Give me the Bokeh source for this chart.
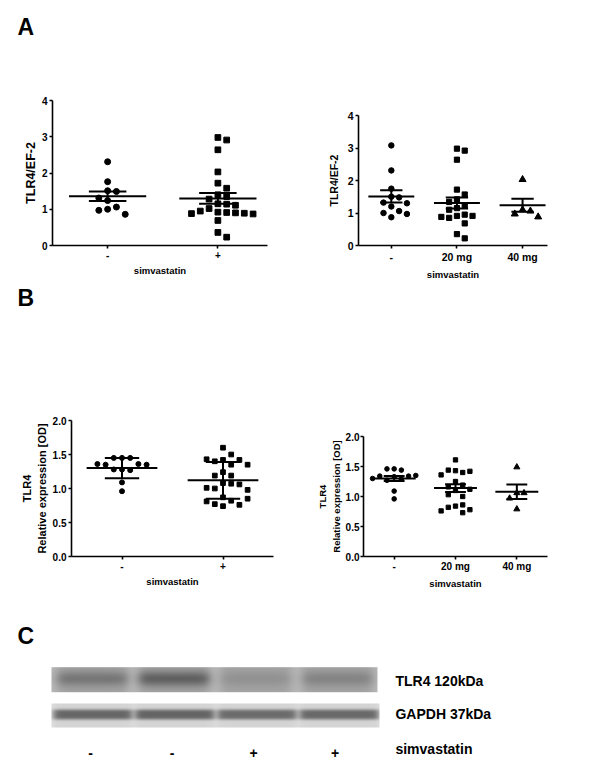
import numpy as np
from bokeh.plotting import figure
from bokeh.models import Range1d, FixedTicker, NumeralTickFormatter, LinearColorMapper, Spacer
from bokeh.layouts import column, row
from bokeh.embed import file_html
from bokeh.resources import INLINE
from bokeh.core.properties import value
from bokeh.palettes import Greys256

FONT = "Liberation Sans"

# ---------------- data ----------------
# Panel A, left: TLR4/EF-2 by simvastatin (-/+)
a_left_groups = ["-", "+"]
a_left_minus = [2.31, 1.76, 1.51, 1.49, 1.31, 1.24, 1.06, 1.00, 0.97, 0.86]
a_left_plus = [2.98, 2.91, 2.64, 2.03, 1.72, 1.58, 1.40, 1.35, 1.28, 1.15, 1.14, 1.11,
               1.02, 0.95, 0.92, 0.91, 0.90, 0.89, 0.88, 0.87, 0.69, 0.36, 0.23]
a_left_mean = [1.36, 1.30]
a_left_sem = [0.13, 0.15]

# Panel A, right: TLR4/EF-2 by simvastatin dose
a_right_groups = ["-", "20 mg", "40 mg"]
a_right_none = [3.08, 2.31, 1.75, 1.50, 1.48, 1.32, 1.30, 1.20, 1.06, 1.00, 0.97, 0.87]
a_right_20 = [2.98, 2.92, 2.64, 1.72, 1.57, 1.42, 1.34, 1.22, 1.15, 1.10, 0.95, 0.91,
              0.91, 0.88, 0.85, 0.68, 0.35, 0.22]
a_right_40 = [2.03, 1.10, 1.06, 0.97, 0.88]
a_right_mean = [1.51, 1.31, 1.24]
a_right_sem = [0.19, 0.17, 0.20]

# Panel B, left: relative expression [OD] (mean +/- SD)
b_left_groups = ["-", "+"]
b_left_minus = [1.45, 1.45, 1.45, 1.36, 1.35, 1.35, 1.36, 1.28, 1.27, 1.28, 1.09, 0.96]
b_left_plus = [1.60, 1.50, 1.42, 1.40, 1.42, 1.43, 1.35, 1.35, 1.24, 1.19, 1.19, 1.08,
               1.07, 1.00, 1.06, 1.01, 0.98, 0.87, 0.82, 0.77, 0.74, 0.76, 0.81, 0.85]
b_left_mean = [1.30, 1.12]
b_left_sd = [0.15, 0.27]

# Panel B, right: relative expression [OD] by dose (mean +/- SEM)
b_right_groups = ["-", "20 mg", "40 mg"]
b_right_none = [1.46, 1.44, 1.46, 1.34, 1.33, 1.34, 1.35, 1.29, 1.27, 1.30, 1.09, 0.96]
b_right_20 = [1.61, 1.43, 1.40, 1.44, 1.42, 1.36, 1.25, 1.19, 1.16, 1.10, 1.12, 1.00,
              1.03, 0.84, 0.86, 0.82, 0.78, 0.73, 0.76]
b_right_40 = [1.49, 1.06, 1.06, 0.97, 0.79]
b_right_mean = [1.30, 1.14, 1.08]
b_right_sem = [0.04, 0.065, 0.12]

a_yticks = [0, 1, 2, 3, 4]
b_yticks = [0.0, 0.5, 1.0, 1.5, 2.0]

# Panel C: western blot lanes
blot_lanes = ["-", "-", "+", "+"]
tlr4_intensity = [0.50, 0.75, 0.20, 0.35]
gapdh_intensity = [0.90, 0.92, 0.86, 0.88]


# ---------------- helpers ----------------
def swarm(vals, y_px_per_unit, thresh_px):
    order = [0, 1, -1, 2, -2, 3, -3, 4, -4, 5, -5, 6, -6]
    placed = []
    slots = []
    for v in vals:
        chosen = order[-1]
        for s in order:
            if all(not (ps == s and abs(pv - v) * y_px_per_unit < thresh_px) for ps, pv in placed):
                chosen = s
                break
        placed.append((chosen, v))
        slots.append(chosen)
    return slots


def blank_fig(width, height, xr, yr):
    p = figure(width=width, height=height, x_range=Range1d(*xr), y_range=Range1d(*yr),
               min_border=0, toolbar_location=None, tools="", output_backend="svg",
               x_axis_type=None, y_axis_type=None, title=None)
    p.xgrid.grid_line_color = None
    p.ygrid.grid_line_color = None
    p.outline_line_color = None
    return p


def letter_fig(width, height, letter, x_px, baseline_down):
    p = blank_fig(width, height, (0, width), (0, height))
    p.text(x=[x_px], y=[height - baseline_down], text=[letter], text_font=value(FONT),
           text_font_style="bold", text_font_size="23px", text_baseline="alphabetic",
           text_color="black")
    return p


def dot_panel(width, height, borders, xr, yr, groups, series, markers, means, errs,
              yticks, yfmt, ylabel, ylabel_size, tick_size, xlabel_size, slot_px, msize,
              ylabel_standoff=4, major_standoff=2):
    bl, br, bt, bb = borders
    p = figure(width=width, height=height, x_range=Range1d(*xr), y_range=Range1d(*yr),
               min_border_left=bl, min_border_right=br, min_border_top=bt, min_border_bottom=bb,
               toolbar_location=None, tools="", output_backend="svg", title=None)
    p.xgrid.grid_line_color = None
    p.ygrid.grid_line_color = None
    p.outline_line_color = None
    frame_w = width - bl - br
    frame_h = height - bt - bb
    xppu = frame_w / (xr[1] - xr[0])
    yppu = frame_h / (yr[1] - yr[0])
    sizes = {"circle": msize, "square": msize - 0.3, "triangle": msize + 1.5}
    for gi, (vals, mk) in enumerate(zip(series, markers)):
        slots = swarm(vals, yppu, 7.5)
        xs = [gi + s * slot_px / xppu for s in slots]
        p.scatter(xs, vals, marker=mk, size=sizes[mk], fill_color="black", line_color="black")
    idx = list(range(len(groups)))
    mw, cw = 0.35, 0.17
    p.segment(x0=[i - mw for i in idx], x1=[i + mw for i in idx], y0=means, y1=means,
              line_width=2, line_color="black")
    hi = [m + e for m, e in zip(means, errs)]
    lo = [m - e for m, e in zip(means, errs)]
    p.segment(x0=[i - cw for i in idx], x1=[i + cw for i in idx], y0=hi, y1=hi,
              line_width=2, line_color="black")
    p.segment(x0=[i - cw for i in idx], x1=[i + cw for i in idx], y0=lo, y1=lo,
              line_width=2, line_color="black")
    p.segment(x0=idx, x1=idx, y0=lo, y1=hi, line_width=2, line_color="black")

    for ax in (p.xaxis[0], p.yaxis[0]):
        ax.axis_line_width = 1.6
        ax.axis_line_color = "black"
        ax.major_tick_line_width = 1.6
        ax.major_tick_line_color = "black"
        ax.major_tick_out = 3
        ax.major_tick_in = 0
        ax.minor_tick_line_color = None
        ax.major_label_text_font = FONT
        ax.major_label_text_font_style = "bold"
        ax.major_label_text_font_size = tick_size
        ax.major_label_text_color = "black"
        ax.major_label_standoff = major_standoff
        ax.axis_label_text_font = FONT
        ax.axis_label_text_font_style = "bold"
        ax.axis_label_text_color = "black"
    p.xaxis.ticker = FixedTicker(ticks=idx)
    p.xaxis.major_label_overrides = {i: g for i, g in enumerate(groups)}
    p.xaxis.axis_label = "simvastatin"
    p.xaxis.axis_label_text_font_size = xlabel_size
    p.xaxis.axis_label_standoff = 3
    p.yaxis.ticker = FixedTicker(ticks=yticks)
    if yfmt:
        p.yaxis.formatter = NumeralTickFormatter(format=yfmt)
    p.yaxis.axis_label = ylabel
    p.yaxis.axis_label_text_font_size = ylabel_size
    p.yaxis.axis_label_standoff = ylabel_standoff
    return p


def solo(p):
    # wrap a plot so that its frame is not aligned with its neighbour's frame
    return column(p, Spacer(width=0, height=0))


# ---------------- panel A ----------------
lettA = letter_fig(584, 40, "A", 9, 18)
pA1 = dot_panel(292, 235, (44, 33, 52, 38), (-0.5, 1.45), (0, 4), a_left_groups,
                [a_left_minus, a_left_plus], ["circle", "square"], a_left_mean, a_left_sem,
                a_yticks, None, "TLR4/EF-2", "12.5px", "10px", "9.5px", 8.8, 6,
                ylabel_standoff=1)

pA2 = dot_panel(292, 235, (58, 45, 67, 38), (-0.5, 2.38), (0, 4), a_right_groups,
                [a_right_none, a_right_20, a_right_40], ["circle", "square", "triangle"],
                a_right_mean, a_right_sem, a_yticks, None, "TLR4/EF-2", "10.5px", "10.5px",
                "9.5px", 7.8, 5.5, ylabel_standoff=5)

# ---------------- panel B ----------------
lettB = letter_fig(584, 40, "B", 9, 14)
pB1 = dot_panel(292, 277, (63, 27, 97, 44), (-0.5, 1.5), (0, 2), b_left_groups,
                [b_left_minus, b_left_plus], ["circle", "square"], b_left_mean, b_left_sd,
                b_yticks, "0.0", "TLR4\nRelative expression [OD]", "11px", "10px", "9.5px",
                8.2, 5, ylabel_standoff=2)

pB2 = dot_panel(292, 277, (63, 45, 113, 44), (-0.5, 2.5), (0, 2), b_right_groups,
                [b_right_none, b_right_20, b_right_40], ["circle", "square", "triangle"],
                b_right_mean, b_right_sem, b_yticks, "0.0", "TLR4\nRelative expression [OD]",
                "9.5px", "10px", "9.5px", 7.2, 4.6, ylabel_standoff=1, major_standoff=1)

# ---------------- panel C (blot) ----------------
CH = 163
pC = blank_fig(584, CH, (-1.006, 6.160), (0, CH))


def blot_image(intens, w, h, bg, lane_dark, band_center, band_sigma, band_depth, lane_half,
               edge, power):
    cols = np.arange(w) + 0.5
    rows = np.arange(h) + 0.5
    centers = (np.arange(len(intens)) + 0.5) * w / len(intens)
    img = np.full((h, w), float(bg))
    for i, k in enumerate(intens):
        lx = 1.0 / (1.0 + np.exp(-(lane_half - np.abs(cols - centers[i])) / edge))
        ly = np.exp(-0.5 * np.abs((rows - band_center) / band_sigma) ** power)
        img -= lane_dark * lx[None, :]
        img -= band_depth * k * np.outer(ly, lx)
    return np.flipud(np.clip(img, 0, 255))


mapper = LinearColorMapper(palette=Greys256, low=0, high=255)
tlr4_img = blot_image(tlr4_intensity, 326, 25, 186, 22, 11.5, 5.5, 90, 35, 3.0, 2)
gapdh_img = blot_image(gapdh_intensity, 328, 24, 224, 12, 11.0, 4.4, 122, 39, 2.0, 4)
pC.image(image=[tlr4_img], x=-0.4785, y=CH - 91.7, dw=326 / 81.5, dh=25, color_mapper=mapper)
pC.image(image=[gapdh_img], x=-0.4785, y=CH - 127, dw=328 / 81.5, dh=24, color_mapper=mapper)

pC.text(x=[-0.8957], y=[CH - 35], text=["C"], text_font=value(FONT), text_font_style="bold",
        text_font_size="23px", text_baseline="alphabetic", text_color="black")
pC.text(x=[3.742, 3.742, 3.742], y=[CH - 80, CH - 113, CH - 148],
        text=["TLR4 120kDa", "GAPDH 37kDa", "simvastatin"], text_font=value(FONT),
        text_font_style="bold", text_font_size="14px", text_baseline="middle",
        text_align="left", text_color="black")
pC.text(x=list(range(len(blot_lanes))), y=[CH - 152] * len(blot_lanes), text=blot_lanes,
        text_font=value(FONT), text_font_style="bold", text_font_size="14px",
        text_baseline="middle", text_align="center", text_color="black")

layout = column(lettA, row(solo(pA1), solo(pA2)), lettB, row(solo(pB1), solo(pB2)), pC)
layout.margin = (8, 0, 0, 8)
open("out.html", "w").write(file_html(layout, INLINE))
